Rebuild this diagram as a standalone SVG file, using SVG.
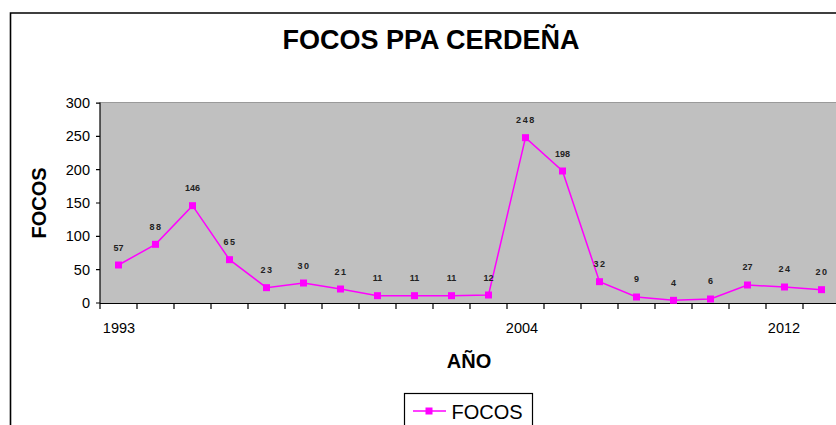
<svg xmlns="http://www.w3.org/2000/svg" width="836" height="425" viewBox="0 0 836 425">
<style>
text{font-family:"Liberation Sans",Arial,sans-serif;fill:#000}
.title{font-size:27px;font-weight:bold}
.axt{font-size:20px;font-weight:bold}
.tick{font-size:14.5px}
.val{font-size:9px;font-weight:bold;fill:#222;text-anchor:middle}
.sp{letter-spacing:1.6px}
.tk{stroke:#000;stroke-width:1.2}
.mk{fill:#FF00FF}
</style>
<defs>
<rect id="sq" x="-3.5" y="-3.5" width="7" height="7" class="mk"/>
</defs>
<rect width="836" height="425" fill="#fff"/>
<path d="M10.5 440 V13 H840" fill="none" stroke="#000" stroke-width="1.6"/>
<text class="title" x="431" y="49" text-anchor="middle">FOCOS PPA CERDEÑA</text>
<g id="plot">
<rect x="100" y="103" width="740" height="200" fill="#C0C0C0"/>
<line x1="100" y1="102.5" x2="840" y2="102.5" stroke="#9a9a9a" stroke-width="1.2"/>
<line x1="100" y1="102.5" x2="100" y2="303" class="tk"/>
<line x1="100" y1="303.5" x2="840" y2="303.5" class="tk"/>
<path class="tk" d="M96 103.2H100M96 136.3H100M96 169.7H100M96 203H100M96 236.3H100M96 269.7H100M96 303H100"/>
<path class="tk" d="M100 303V309M137 303V309M174 303V309M211 303V309M248 303V309M285 303V309M322 303V309M359 303V309M396 303V309M433 303V309M470 303V309M507 303V309M544 303V309M581 303V309M618 303V309M655 303V309M692 303V309M729 303V309M766 303V309M803 303V309"/>
</g>
<g id="yaxis" class="tick" text-anchor="end">
<text x="90" y="108">300</text>
<text x="90" y="141.3">250</text>
<text x="90" y="174.7">200</text>
<text x="90" y="208">150</text>
<text x="90" y="241.3">100</text>
<text x="90" y="274.7">50</text>
<text x="90" y="308">0</text>
</g>
<g id="xaxis" class="tick" text-anchor="middle">
<text x="119" y="333">1993</text>
<text x="522" y="333">2004</text>
<text x="784" y="333">2012</text>
</g>
<text class="axt" transform="translate(46 203) rotate(-90)" text-anchor="middle">FOCOS</text>
<text class="axt" x="469" y="368" text-anchor="middle">AÑO</text>
<g id="connectors">
<polyline fill="none" stroke="#FF00FF" stroke-width="1.5" points="118.5,265 155.5,244.33 192.5,205.67 229.5,259.67 266.5,287.67 303.5,283 340.5,289 377.5,295.67 414.5,295.67 451.5,295.67 488.5,295 525.5,137.67 562.5,171 599.5,281.67 636.5,297 673.5,300.33 710.5,299 747.5,285 784.5,287 821.5,289.67"/>
</g>
<g id="markers">
<use href="#sq" x="118.5" y="265"/>
<use href="#sq" x="155.5" y="244.33"/>
<use href="#sq" x="192.5" y="205.67"/>
<use href="#sq" x="229.5" y="259.67"/>
<use href="#sq" x="266.5" y="287.67"/>
<use href="#sq" x="303.5" y="283"/>
<use href="#sq" x="340.5" y="289"/>
<use href="#sq" x="377.5" y="295.67"/>
<use href="#sq" x="414.5" y="295.67"/>
<use href="#sq" x="451.5" y="295.67"/>
<use href="#sq" x="488.5" y="295"/>
<use href="#sq" x="525.5" y="137.67"/>
<use href="#sq" x="562.5" y="171"/>
<use href="#sq" x="599.5" y="281.67"/>
<use href="#sq" x="636.5" y="297"/>
<use href="#sq" x="673.5" y="300.33"/>
<use href="#sq" x="710.5" y="299"/>
<use href="#sq" x="747.5" y="285"/>
<use href="#sq" x="784.5" y="287"/>
<use href="#sq" x="821.5" y="289.67"/>
</g>
<g id="labels">
<text class="val" x="118.5" y="251">57</text>
<text class="val sp" x="156" y="230">88</text>
<text class="val" x="192.5" y="191">146</text>
<text class="val sp" x="230" y="245">65</text>
<text class="val sp" x="267" y="273">23</text>
<text class="val sp" x="304" y="268.5">30</text>
<text class="val sp" x="341" y="274.5">21</text>
<text class="val" x="377.5" y="281">11</text>
<text class="val" x="414.5" y="281">11</text>
<text class="val" x="451.5" y="281">11</text>
<text class="val" x="488.5" y="280.5">12</text>
<text class="val sp" x="526" y="123">248</text>
<text class="val" x="562.5" y="156.5">198</text>
<text class="val sp" x="600" y="267">32</text>
<text class="val" x="636.5" y="282">9</text>
<text class="val" x="673.5" y="286">4</text>
<text class="val" x="710.5" y="284">6</text>
<text class="val" x="747.5" y="270">27</text>
<text class="val sp" x="785" y="272">24</text>
<text class="val sp" x="822" y="275">20</text>
</g>
<g id="legend">
<rect x="404.5" y="393.5" width="128" height="45" fill="#fff" stroke="#000" stroke-width="1.2"/>
<line x1="413" y1="411" x2="446" y2="411" stroke="#FF00FF" stroke-width="1.5"/>
<use href="#sq" x="429" y="411"/>
<text x="451.5" y="418.5" font-size="20">FOCOS</text>
</g>
</svg>
